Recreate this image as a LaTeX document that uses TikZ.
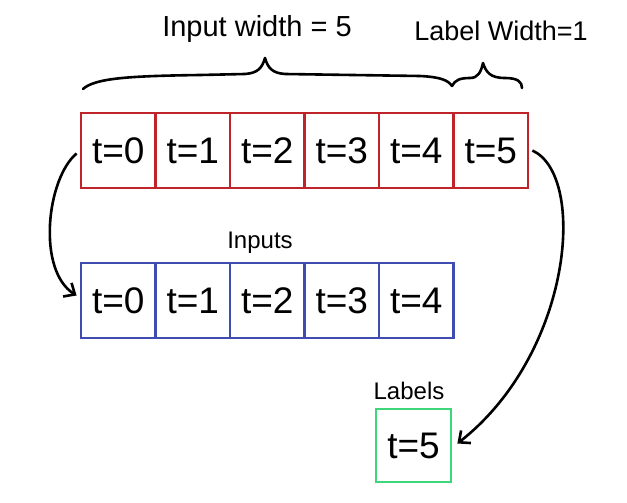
\documentclass[tikz,border=0pt]{standalone}
\usepackage{fontspec}
\setmainfont{Liberation Sans}
\usetikzlibrary{arrows.meta,calc}
\definecolor{cred}{HTML}{C0242B}
\definecolor{cblue}{HTML}{3F4DB0}
\definecolor{cgreen}{HTML}{3DD67A}
\tikzset{
  cell/.style={draw, line width=2.8pt, minimum width=74.5pt, minimum height=75pt, inner sep=0pt, font=\fontsize{37}{40}\selectfont, text=black},
  redcell/.style={cell, draw=cred},
  bluecell/.style={cell, draw=cblue},
  greencell/.style={cell, draw=cgreen, minimum width=75pt, minimum height=73pt},
  title/.style={font=\fontsize{29}{32}\selectfont, inner sep=0pt},
  small/.style={font=\fontsize{24}{27}\selectfont, inner sep=0pt},
  arr/.style={line width=2.6pt, -{Straight Barb[length=9pt,width=16pt,line width=2.6pt]}},
  brace/.style={line width=2.6pt, line cap=round, line join=round}
}
\begin{document}
\begin{tikzpicture}[x=1pt,y=-1pt]
\useasboundingbox (0,0) rectangle (627,503);
\fill[white] (0,0) rectangle (627,503);
% red row
\foreach \i/\t in {0/0,1/1,2/2,3/3,4/4,5/5}{
  \node[redcell] (r\i) at (81+37.25+74.5*\i,150.5) {t=\t};
}
% blue row
\foreach \i/\t in {0/0,1/1,2/2,3/3,4/4}{
  \node[bluecell] (b\i) at (81+37.25+74.5*\i,300.5) {t=\t};
}
% green
\node[greencell] (g) at (413.5,445.5) {t=5};
% labels
\node[title] (iw) at (257,29) {Input width = 5};
\node[title, font=\fontsize{27}{30}\selectfont] (lw) at (501,31) {Label Width=1};
\node[small] (inl) at (260,243) {Inputs};
\node[small] (lbl) at (409,391) {Labels};
% braces
\draw[brace] (83,89) .. controls (95,78) and (130,76) .. (200,75) -- (245,74)
  .. controls (258,73) and (262,68) .. (265,58)
  .. controls (268,68) and (272,73) .. (285,74) -- (420,76)
  .. controls (440,77) and (448,80) .. (452,86);
\draw[brace] (452,86) .. controls (455,80) and (460,78) .. (470,78)
  .. controls (478,78) and (481,72) .. (483,63)
  .. controls (486,72) and (490,78) .. (505,78)
  .. controls (518,78) and (522,82) .. (522,88);
% arrows
\draw[arr] ([shift={(-3,3)}]r0.west) .. controls +(-30,25) and +(-40,-25) .. ([shift={(-3,-5)}]b0.west);
\draw[arr] ([shift={(3,0)}]r5.east) .. controls +(55,25) and +(115,-90) .. ([shift={(5,-2)}]g.east);
\end{tikzpicture}
\end{document}
